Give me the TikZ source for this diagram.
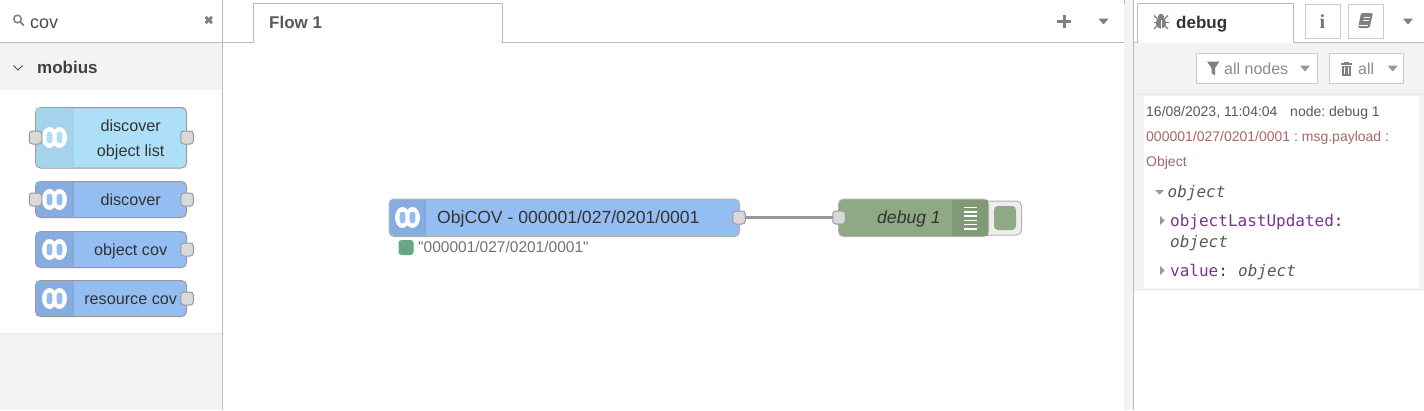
\documentclass[tikz,border=0pt]{standalone}
\usepackage{fontspec}
\setmainfont{Liberation Sans}
\setmonofont{DejaVu Sans Mono}
\newfontfamily\iconserif{Liberation Serif}
\newfontfamily\plainsans[Ligatures=ResetAll]{Liberation Sans}
\usetikzlibrary{arrows.meta}
\definecolor{panelgray}{HTML}{F3F3F3}
\definecolor{rulegray}{HTML}{BBBBBB}
\definecolor{paleblue}{HTML}{AEDFF8}
\definecolor{paleblueh}{HTML}{A5D3EB}
\definecolor{nodeblue}{HTML}{94BDF2}
\definecolor{nodeblueh}{HTML}{87ADE0}
\definecolor{nodegreen}{HTML}{8FA985}
\definecolor{nodegreenh}{HTML}{809A78}
\definecolor{statusgreen}{HTML}{68A687}
\definecolor{msgred}{HTML}{AA6666}
\definecolor{keypurple}{HTML}{7A3291}
\tikzset{
  flownode/.style={draw=black!40, line width=1, rounded corners=5, inner sep=0, outer sep=0},
  portbox/.style={draw=black!40, fill=black!15, line width=1, rounded corners=3, minimum width=12.5, minimum height=13, inner sep=0, outer sep=0},
  btnbox/.style={draw=black!20, fill=white, line width=1, inner sep=0, outer sep=0},
  nodetext/.style={inner sep=0, anchor=base, text=black!80, font=\fontsize{16.2}{16}\selectfont},
  bigtext/.style={inner sep=0, text=black!80, font=\fontsize{17.6}{18}\selectfont},
  smalltext/.style={inner sep=0, anchor=base west, font=\fontsize{14}{14}\selectfont},
  monotext/.style={inner sep=0, anchor=base west, font=\ttfamily\fontsize{16}{16}\selectfont},
  headtext/.style={inner sep=0, anchor=base west, text=black!65, font=\bfseries\fontsize{17}{17}\selectfont},
}
\newcommand{\nodehead}[5]{\fill [#5, rounded corners=5] (#2,#3) [sharp corners] -- (#1,#3) [rounded corners=5] -- (#1,#4) [sharp corners] -- (#2,#4) -- cycle;
\draw [black!4!#5, line width=0.5] (#2,#3) -- (#2,#4);}
\newcommand{\mobicon}[3]{\fill [white] (#1-5,#2) ellipse [x radius=7.5, y radius=10.5];
\fill [white] (#1+5,#2) ellipse [x radius=7.5, y radius=10.5];
\fill [#3, rounded corners=2.6] (#1-7.8,#2-5.8) rectangle (#1-2.2,#2+5.8);
\fill [#3, rounded corners=2.6] (#1+2.2,#2-5.8) rectangle (#1+7.8,#2+5.8);}
\newcommand{\caret}[3]{\fill [#3, rounded corners=0.6] (#1-5,#2-2.8) -- (#1+5,#2-2.8) -- (#1,#2+3) -- cycle;}
\begin{document}
\frenchspacing
\begin{tikzpicture}[x=1pt, y=-1pt]
\useasboundingbox (0,0) rectangle (1424,410);
\fill [white] (0,0) rectangle (1424,410);
\fill [panelgray] (0,43) rectangle (222,90);
\fill [panelgray] (0,334) rectangle (222,410);
\fill [panelgray] (1124,0) rectangle (1133,410);
\fill [panelgray] (1134,43) rectangle (1424,289);
\fill [white] (1144,96) rectangle (1419,288);
\draw [black!10, line width=1] (0,333.5) -- (222,333.5);
\draw [black!10, line width=1] (1134,94.5) -- (1424,94.5);
\draw [black!10, line width=1] (1134,289.5) -- (1424,289.5);
\draw [rulegray, line width=1] (0,42.5) -- (222,42.5);
\draw [rulegray, line width=1] (222.5,0) -- (222.5,410);
\draw [rulegray, line width=1] (1124,0) -- (1124,4);
\draw [rulegray, line width=1] (1133.5,0) -- (1133.5,410);
\draw [rulegray, line width=1] (222,42.5) -- (253.5,42.5) -- (253.5,3.5) -- (502.5,3.5) -- (502.5,42.5) -- (1124,42.5);
\draw [rulegray, line width=1] (1133.5,42.5) -- (1137.5,42.5) -- (1137.5,3.5) -- (1293,3.5) -- (1293,42.5) -- (1424,42.5);
\draw [black!50, line width=1.5] (17.5,19) circle [radius=3.8];
\draw [black!50, line width=1.8] (20.3,21.8) -- (23.8,25.5);
\node [inner sep=0, anchor=base west, text=black!70, font=\fontsize{18}{18}\selectfont] (searchtext) at (30,28) {cov};
\draw [black!50, line width=2.8] (205.5,17) -- (212,23);
\draw [black!50, line width=2.8] (212,17) -- (205.5,23);
\draw [black!70, line width=1] (13.5,65.5) -- (18,70) -- (22.5,65.5);
\node [headtext, text=black!75] (drawername) at (37,73) {mobius};
\node [headtext] (flowtab) at (269,28) {Flow 1};
\draw [black!50, line width=3] (1064,15) -- (1064,28);
\draw [black!50, line width=3] (1057,21) -- (1071,21);
\caret{1103.5}{21.5}{black!50}
\node [flownode, fill=paleblue, minimum width=151, minimum height=60.5] (discoverlist) at (111,137.75) {};
\nodehead{36}{73.5}{108}{167.5}{paleblueh}
\mobicon{54.5}{137.5}{paleblue}
\node [nodetext] (discoverlisttop) at (130.7,131) {discover};
\node [nodetext] (discoverlistbot) at (130.7,156) {object list};
\node [portbox] (discoverlistin) at (35.5,137.5) {};
\node [portbox] (discoverlistout) at (187,137.5) {};
\node [flownode, fill=nodeblue, minimum width=151, minimum height=36] (discover) at (111,199.5) {};
\nodehead{36}{73.5}{182}{217}{nodeblueh}
\mobicon{54.5}{199.5}{nodeblue}
\node [nodetext] (discovertext) at (130.7,205) {discover};
\node [portbox] (discoverin) at (35.5,199.5) {};
\node [portbox] (discoverout) at (187,199.5) {};
\node [flownode, fill=nodeblue, minimum width=151, minimum height=36] (objectcov) at (111,249.5) {};
\nodehead{36}{73.5}{232}{267}{nodeblueh}
\mobicon{54.5}{249.5}{nodeblue}
\node [nodetext] (objectcovtext) at (130.7,255) {object cov};
\node [portbox] (objectcovout) at (187,249.5) {};
\node [flownode, fill=nodeblue, minimum width=151, minimum height=36] (resourcecov) at (111,298.5) {};
\nodehead{36}{73.5}{281}{316}{nodeblueh}
\mobicon{54.5}{298.5}{nodeblue}
\node [nodetext] (resourcecovtext) at (130.7,304) {resource cov};
\node [portbox] (resourcecovout) at (187,298.5) {};
\node [flownode, draw=black!30, fill=nodeblue, minimum width=350.5, minimum height=37.5] (objcov) at (564.25,217.75) {};
\nodehead{390}{425.7}{200}{236}{nodeblueh}
\mobicon{407.5}{217.5}{nodeblue}
\node [bigtext, anchor=base west] (objcovtext) at (437,223.8) {ObjCOV - 000001/027/0201/0001};
\node [flownode, draw=black!30, fill=black!7, minimum width=40, minimum height=34] (debugbtn) at (1001.5,218) {};
\node [draw=none, fill=nodegreen, rounded corners=4, minimum width=22, minimum height=24, inner sep=0] (debugbtnface) at (1005,218) {};
\node [flownode, draw=black!30, fill=nodegreen, minimum width=150, minimum height=37.5] (debugnode) at (913.5,217.75) {};
\fill [nodegreenh, rounded corners=5] (952,200) [sharp corners] -- (988,200) -- (988,236) -- (952,236) -- cycle;
\foreach \iy in {207.5,211.8,216.1,220.4,224.7,229} \draw [white, line width=1.5] (964,\iy) -- (977,\iy);
\node [bigtext, anchor=base east, font=\itshape\fontsize{17.6}{18}\selectfont] (debugtext) at (941,223.8) {debug 1};
\node [portbox] (objcovout) at (739,217.5) {};
\node [portbox] (debugin) at (839,217.5) {};
\draw [black!40, line width=3.2] (objcovout) -- (debugin);
\node [fill=statusgreen, rounded corners=3, minimum width=15, minimum height=15, inner sep=0] (objcovstatus) at (406,247.5) {};
\node [smalltext, text=black!55, font=\plainsans\fontsize{15.5}{16}\selectfont] (objcovstatustext) at (418,252.5) {"000001/027/0201/0001"};
\fill [black!50] (1161,23) ellipse [x radius=5, y radius=5.8];
\fill [black!50] (1161,16.8) circle [radius=3];
\draw [black!50, line width=1.3] (1153.5,22.5) -- (1168.5,22.5);
\draw [black!50, line width=1.3] (1154,15.5) -- (1158,19.5);
\draw [black!50, line width=1.3] (1168,15.5) -- (1164,19.5);
\draw [black!50, line width=1.3] (1154,29) -- (1157.5,25.5);
\draw [black!50, line width=1.3] (1168,29) -- (1164.5,25.5);
\draw [white, line width=0.8] (1161,19.5) -- (1161,28.5);
\node [headtext, text=black!80] (debugtab) at (1176,28) {debug};
\node [btnbox, minimum width=35, minimum height=34] (infobtn) at (1322.5,21.5) {};
\node [inner sep=0, text=black!55, font=\iconserif\bfseries\fontsize{20}{20}\selectfont] (infoicon) at (infobtn) {i};
\node [btnbox, minimum width=35, minimum height=34] (bookbtn) at (1365.5,21.5) {};
\fill [black!50, rounded corners=1.5] (1361,13) -- (1373,13) -- (1369.5,28) -- (1358,28) -- cycle;
\draw [white, line width=0.9] (1363.5,17.5) -- (1370,17.5);
\draw [white, line width=0.9] (1362.5,20.5) -- (1369,20.5);
\draw [white, line width=0.9] (1359,25) -- (1368,25);
\caret{1408}{21.5}{black!50}
\node [btnbox, minimum width=121, minimum height=30] (filterbtn) at (1256.5,68) {};
\fill [black!50] (1207,61.5) -- (1219.5,61.5) -- (1215,68) -- (1215,75.5) -- (1211.5,73) -- (1211.5,68) -- cycle;
\node [smalltext, text=black!45, font=\fontsize{16}{16}\selectfont] (filtertext) at (1224,74) {all nodes};
\caret{1305}{68.5}{black!40}
\node [btnbox, minimum width=74, minimum height=30] (clearbtn) at (1366,68) {};
\fill [black!50] (1341,63) rectangle (1352,64.5);
\fill [black!50] (1344,61.5) rectangle (1349,63);
\fill [black!50] (1342,65.5) rectangle (1351,75.5);
\draw [white, line width=0.7] (1344.7,67) -- (1344.7,74);
\draw [white, line width=0.7] (1348.3,67) -- (1348.3,74);
\node [smalltext, text=black!45, font=\fontsize{16}{16}\selectfont] (cleartext) at (1358,74) {all};
\caret{1392.7}{68.5}{black!40}
\node [smalltext, text=black!65] (msgtime) at (1146,116) {16/08/2023, 11:04:04};
\node [smalltext, text=black!65] (msgsource) at (1290,116) {node: debug 1};
\node [smalltext, text=msgred] (msgtopic) at (1146,141) {000001/027/0201/0001 : msg.payload :};
\node [smalltext, text=msgred] (msgtype) at (1146,166) {Object};
\fill [black!40] (1155,190) -- (1164,190) -- (1159.5,194.5) -- cycle;
\node [monotext, text=black!65, font=\ttfamily\itshape\fontsize{16}{16}\selectfont] (objroot) at (1167.5,197.5) {object};
\fill [black!40] (1160,216) -- (1160,225) -- (1164.5,220.5) -- cycle;
\node [monotext, text=keypurple] (objkeya) at (1170,226) {objectLastUpdated\textcolor{black!75}{:}};
\node [monotext, text=black!65, font=\ttfamily\itshape\fontsize{16}{16}\selectfont] (objvala) at (1170,247) {object};
\fill [black!40] (1160,266) -- (1160,275) -- (1164.5,270.5) -- cycle;
\node [monotext, text=keypurple] (objkeyb) at (1170,276) {value\textcolor{black!75}{:}};
\node [monotext, text=black!65, font=\ttfamily\itshape\fontsize{16}{16}\selectfont] (objvalb) at (1238,276) {object};
\end{tikzpicture}
\end{document}
